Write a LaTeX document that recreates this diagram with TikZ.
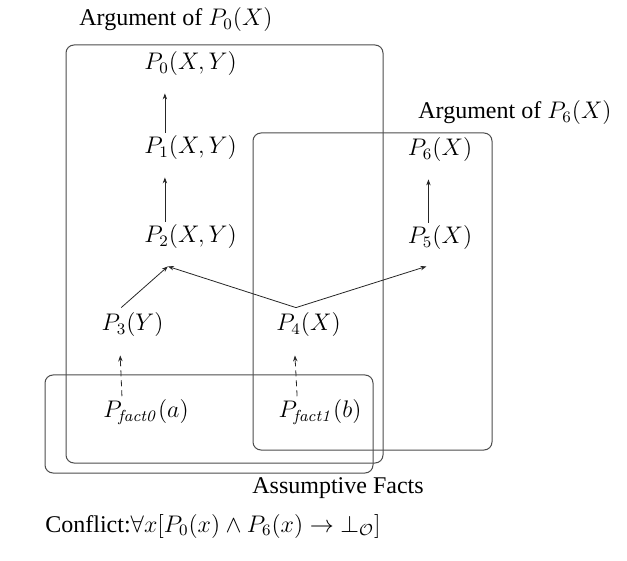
\documentclass[tikz,border=0pt]{standalone}
\usepackage[no-math]{fontspec}
\setmainfont{Liberation Serif}
\usetikzlibrary{arrows.meta}
\begin{document}
\begin{tikzpicture}[
  x=0.5pt, y=-0.5pt,
  font=\fontsize{12}{14.4}\selectfont,
  lit/.style={inner sep=0pt, anchor=center},
  caixa/.style={draw=black!70, line width=0.5pt, rounded corners=4pt},
  arr/.style={draw=black!85, line width=0.4pt, -{Stealth[length=3pt,width=2.2pt]}},
  darr/.style={arr, densely dashed}
]
\useasboundingbox (0,0) rectangle (627,561);
% caixas dos argumentos
\draw[caixa] (66,45) rectangle (383,463);
\draw[caixa] (253,133) rectangle (492,450);
\draw[caixa] (45,375) rectangle (373,473);
% rótulos
\node[lit] (argA) at (176,20) {Argument of $P_0(X)$};
\node[lit] (argB) at (515,113) {Argument of $P_6(X)$};
\node[lit] (fatos) at (338,488) {Assumptive Facts};
\node[lit, anchor=west] (conf) at (45,526) {Conflict:$\forall x[P_0(x)\land P_6(x)\rightarrow\bot_{\mathcal{O}}]$};
% literais
\node[lit] (p0) at (190.5,64) {$P_0(X,Y)$};
\node[lit] (p1) at (190.5,148) {$P_1(X,Y)$};
\node[lit] (p2) at (190.5,237) {$P_2(X,Y)$};
\node[lit] (p6) at (440,150) {$P_6(X)$};
\node[lit] (p5) at (440,238) {$P_5(X)$};
\node[lit] (p3) at (132.5,325) {$P_3(Y)$};
\node[lit] (p4) at (308.5,325) {$P_4(X)$};
\node[lit] (pf0) at (146,412) {$P_{\mathit{fact0}}(a)$};
\node[lit] (pf1) at (320,412) {$P_{\mathit{fact1}}(b)$};
% regras estritas
\foreach \a/\b in {p1/p0, p2/p1, p5/p6}
  \draw[arr] ([xshift=10.5pt,yshift=1.5pt]\a.north west) -- ([xshift=10.5pt,yshift=-8.5pt]\b.south west);
\draw[arr] ([xshift=10pt,yshift=2.5pt]p3.north west) -- ([xshift=12pt,yshift=-8.5pt]p2.south west);
\draw[arr] ([xshift=10pt,yshift=2.5pt]p4.north west) -- ([xshift=12pt,yshift=-8.5pt]p2.south west);
\draw[arr] ([xshift=10pt,yshift=2.5pt]p4.north west) -- ([xshift=9.5pt,yshift=-8pt]p5.south west);
% fatos assumidos
\foreach \a/\b in {pf0/p3, pf1/p4}
  \draw[darr] ([xshift=9.5pt,yshift=1.5pt]\a.north west) -- ([xshift=9.5pt,yshift=-9pt]\b.south west);
\end{tikzpicture}
\end{document}
